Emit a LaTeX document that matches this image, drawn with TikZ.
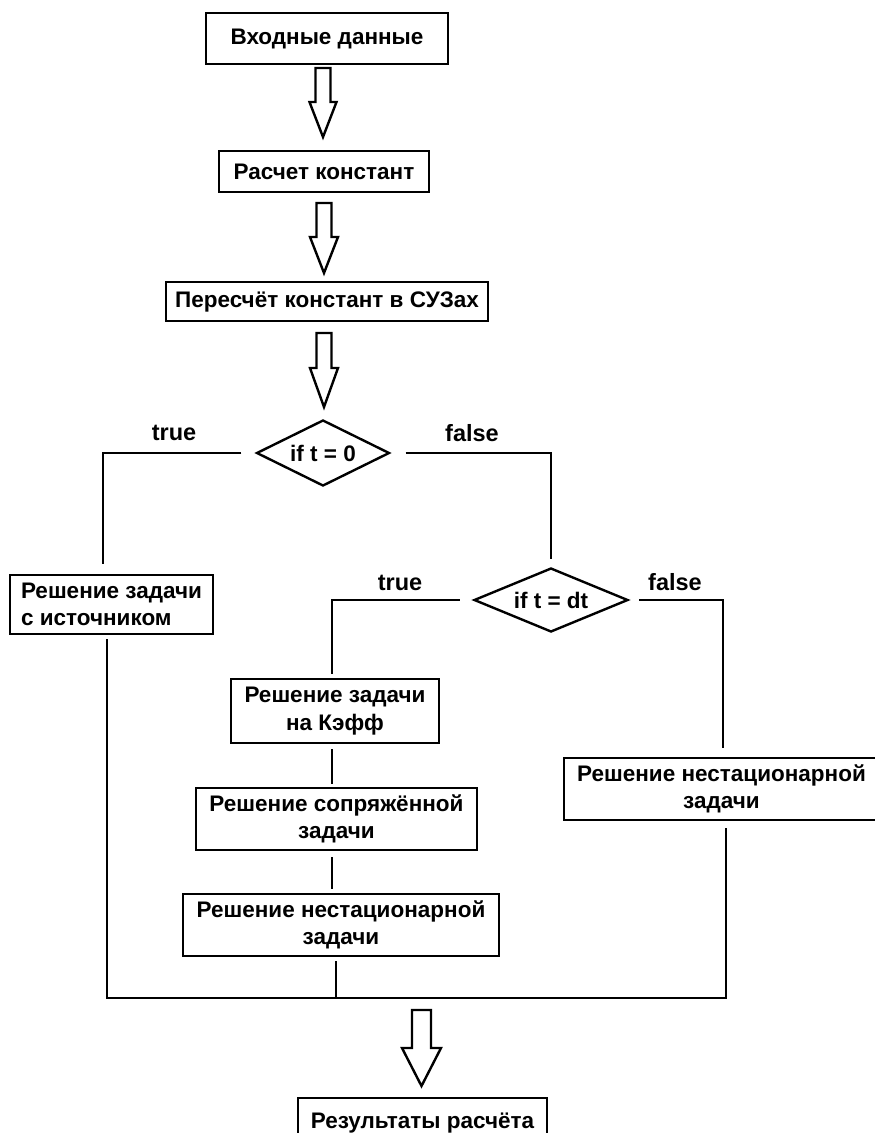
\documentclass[tikz,border=0pt]{standalone}
\usepackage{fontspec}
\setmainfont{Liberation Sans}
\usetikzlibrary{shapes.geometric}
\begin{document}
\begin{tikzpicture}[x=1pt,y=-1pt,
  every node/.style={font=\bfseries\fontsize{22.5}{27.5}\selectfont},
  box/.style={draw, line width=2.8pt, inner sep=0pt, align=center},
  decision/.style={draw, diamond, line width=2.4pt, inner sep=0pt},
  conn/.style={line width=2.6pt},
  blk/.style={draw, line width=2.4pt, fill=white, line join=miter},
  lbl/.style={inner sep=0pt, font=\bfseries\fontsize{23.5}{27.5}\selectfont},
  pics/blockarrow/.style n args={4}{code={%
    % length, start of head, shaft half width, head half width
    \draw[blk] (-#3,0) -- (#3,0) -- (#3,#2) -- (#4,#2) -- (0,#1)
               -- (-#4,#2) -- (-#3,#2) -- cycle;}}
]
\useasboundingbox (0,0) rectangle (875,1133);
\fill[white] (0,0) rectangle (875,1133);
\clip (0,0) rectangle (875,1133);

% main chain
\node[box, minimum width=242, minimum height=51] (in) at (327,38.5) {Входные данные};
\node[box, minimum width=210, minimum height=41] (calc) at (324,171.5) {Расчет констант};
\node[box, minimum width=322, minimum height=39] (recalc) at (327,301.5) {Пересчёт констант в СУЗах};
\node[decision, minimum width=133, minimum height=66, label={center:if t = 0}] (d1) at (323,453) {};

% branches
\node[box, minimum width=203, minimum height=59, align=left] (src) at (111.5,604.5) {Решение задачи\\с источником};
\node[decision, minimum width=154, minimum height=64, label={center:if t = dt}] (d2) at (551,600) {};
\node[box, minimum width=208, minimum height=64] (keff) at (335,711) {Решение задачи\\на Кэфф};
\node[box, minimum width=281, minimum height=62] (adj) at (336.5,819) {Решение сопряжённой\\задачи};
\node[box, minimum width=316, minimum height=62] (ns1) at (341,925) {Решение нестационарной\\задачи};
\node[box, minimum width=315, minimum height=62] (ns2) at (721.5,789) {Решение нестационарной\\задачи};
\node[box, minimum width=249, minimum height=50] (res) at (422.5,1123) {Результаты расчёта};

% branch labels
\node[lbl] (t1) at (174,433) {true};
\node[lbl] (f1) at (472,433) {false};
\node[lbl] (t2) at (400,583) {true};
\node[lbl] (f2) at (675,582) {false};

% block arrows
\pic at (323,68) {blockarrow={69}{34}{7.5}{13.5}};
\pic at (324,203) {blockarrow={70}{34}{7.5}{14}};
\pic at (324,333) {blockarrow={74}{35}{7.5}{14}};
\pic at (421.5,1010) {blockarrow={76}{38}{9.5}{19.5}};

% connectors
\coordinate (join) at (336,998);
\draw[conn, shorten <=14pt, shorten >=10pt] (d1.west) -| ([xshift=-8.5pt]src.north);
\draw[conn, shorten <=15pt, shorten >=8pt] (d1.east) -| (d2.north);
\draw[conn, shorten <=13pt, shorten >=4pt] (d2.west) -| ([xshift=-3pt]keff.north);
\draw[conn, shorten <=10pt, shorten >=9pt] (d2.east) -| ([xshift=1.5pt]ns2.north);
\draw[conn, shorten <=5pt, shorten >=3pt] ([xshift=-3pt]keff.south) -- ([xshift=-4.5pt]adj.north);
\draw[conn, shorten <=6pt, shorten >=4pt] ([xshift=-4.5pt]adj.south) -- ([xshift=-9pt]ns1.north);
\draw[conn, shorten <=4pt] ([xshift=-5pt]ns1.south) -- (join);
\draw[conn, shorten <=4pt, shorten >=7pt] ([xshift=-4.5pt]src.south) |- (join) -| ([xshift=4.5pt]ns2.south);
\end{tikzpicture}
\end{document}
